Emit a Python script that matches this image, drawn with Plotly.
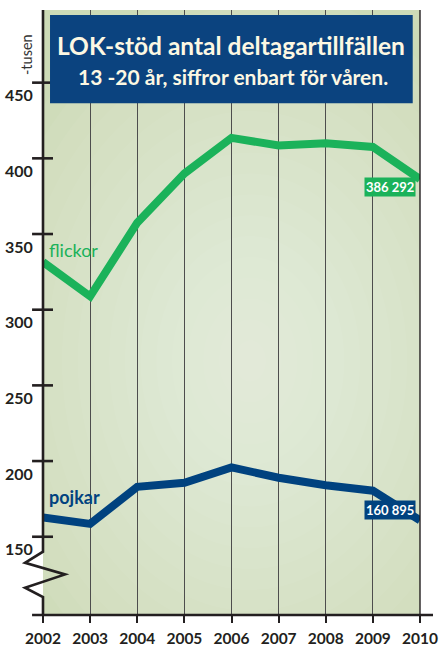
import plotly.graph_objects as go

years = [2002, 2003, 2004, 2005, 2006, 2007, 2008, 2009, 2010]
flickor = [331.5, 308.8, 357.5, 390.0, 413.5, 408.5, 410.0, 407.5, 386.292]
pojkar = [162.8, 158.5, 183.0, 185.7, 195.8, 189.0, 184.0, 180.4, 160.895]
ytick_vals = [150, 200, 250, 300, 350, 400, 450]
ytick_text = ["150", "200", "250", "300", "350", "400", "450"]
xtick_text = [str(y) for y in years]
series_names = ["flickor", "pojkar"]
end_labels = ["386 292", "160 895"]
title1 = "LOK-stöd antal deltagartillfällen"
title2 = "13 -20 år, siffror enbart för våren."
unit_label = "-tusen"

GREEN = "#1bb25a"
BLUE = "#00427f"
DARK = "#231f20"
BG = "#cddbb7"
FONT = "Lato"

Y_RANGE = [98.3, 498.0]

fig = go.Figure()
fig.add_trace(go.Scatter(x=years, y=flickor, mode="lines", line=dict(color=GREEN, width=8),
                         hoverinfo="skip", showlegend=False))
fig.add_trace(go.Scatter(x=years, y=pojkar, mode="lines", line=dict(color=BLUE, width=8),
                         hoverinfo="skip", showlegend=False))

shapes = []
# soft radial highlight in background
n = 18
for i in range(n):
    f = 1 - i / n
    shapes.append(dict(type="circle", xref="paper", yref="paper", layer="below",
                       x0=0.55 - 0.75 * f, x1=0.55 + 0.75 * f,
                       y0=0.42 - 0.62 * f, y1=0.42 + 0.62 * f,
                       fillcolor="rgba(255,255,255,0.045)", line=dict(width=0)))
# y axis line with break zigzag
shapes.append(dict(type="path", xref="paper", yref="y", layer="above",
                   path=f"M 0,{Y_RANGE[1]} L 0,140.1 L -0.0477,132.8 L 0.0584,125.1 L -0.0477,116.3 L 0,110.1 L 0,{Y_RANGE[0]}",
                   line=dict(color=DARK, width=2.6)))
# x axis line
shapes.append(dict(type="line", xref="paper", yref="paper", x0=-0.029, x1=1.0345, y0=0, y1=0,
                   line=dict(color=DARK, width=2.6)))
# right border
shapes.append(dict(type="line", xref="paper", yref="paper", x0=1, x1=1, y0=0, y1=1,
                   line=dict(color=DARK, width=1.4)))
# y ticks crossing axis
for v in ytick_vals:
    shapes.append(dict(type="line", xref="paper", yref="y", x0=-0.029, x1=0.0265, y0=v, y1=v,
                       line=dict(color=DARK, width=2.6)))
# title box
shapes.append(dict(type="rect", xref="paper", yref="paper", x0=0.0186, x1=0.9807, y0=0.8458, y1=0.9917,
                   fillcolor="#0b437f", line=dict(width=0), layer="above"))

annotations = []
for v, t in zip(ytick_vals, ytick_text):
    annotations.append(dict(x=-0.0212, y=v, xref="paper", yref="y", text=t, showarrow=False,
                            xanchor="right", yanchor="middle", yshift=-12,
                            font=dict(family=FONT, size=16, color=DARK, weight="bold")))
annotations.append(dict(x=-0.0477, y=0.9256, xref="paper", yref="paper", text=unit_label, showarrow=False,
                        textangle=-90, xanchor="center", yanchor="middle", xshift=1,
                        font=dict(family=FONT, size=14.5, color="#333333")))
annotations.append(dict(x=0.4987, y=0.9421, xref="paper", yref="paper", text=title1, showarrow=False,
                        xanchor="center", yanchor="middle",
                        font=dict(family=FONT, size=24.5, color="#fdf8e3", weight="bold")))
annotations.append(dict(x=0.5027, y=0.8909, xref="paper", yref="paper", text=title2, showarrow=False,
                        xanchor="center", yanchor="middle",
                        font=dict(family=FONT, size=21, color="#fdf8e3", weight="bold")))
# series labels
annotations.append(dict(x=years[0], y=339.4, xref="x", yref="y", text=series_names[0], showarrow=False,
                        xanchor="left", yanchor="middle", xshift=4,
                        font=dict(family=FONT, size=18, color=GREEN)))
annotations.append(dict(x=years[0], y=176.2, xref="x", yref="y", text=series_names[1], showarrow=False,
                        xanchor="left", yanchor="middle", xshift=4,
                        font=dict(family=FONT, size=18, color=BLUE, weight="bold")))
# end value labels
annotations.append(dict(x=years[-1], y=flickor[-1], xref="x", yref="y", text=end_labels[0], showarrow=False,
                        xanchor="right", yanchor="middle", xshift=-4, yshift=-8, bgcolor=GREEN, borderpad=1,
                        font=dict(family=FONT, size=13, color="white", weight="bold")))
annotations.append(dict(x=years[-1], y=pojkar[-1], xref="x", yref="y", text=end_labels[1], showarrow=False,
                        xanchor="right", yanchor="middle", xshift=-4, yshift=10, bgcolor=BLUE, borderpad=1,
                        font=dict(family=FONT, size=13, color="white", weight="bold")))

fig.update_layout(
    width=439, height=647,
    margin=dict(l=43, r=19, t=10, b=32),
    paper_bgcolor="white", plot_bgcolor=BG,
    shapes=shapes, annotations=annotations,
    xaxis=dict(range=[2002, 2010], tickvals=years, ticktext=xtick_text,
               showgrid=True, gridcolor="#4d4d4d", gridwidth=1, showline=False, zeroline=False,
               ticks="outside", ticklen=7, tickwidth=2.2, tickcolor=DARK, automargin=False,
               ticklabelstandoff=2,
               tickfont=dict(family=FONT, size=15.5, color=DARK, weight="bold")),
    yaxis=dict(range=Y_RANGE, showgrid=False, zeroline=False, showline=False, automargin=False,
               showticklabels=False, ticks=""),
)

fig.write_html("out.html", config={"displayModeBar": False},
               post_script="document.body.style.margin='0';document.body.style.overflow='hidden';")
